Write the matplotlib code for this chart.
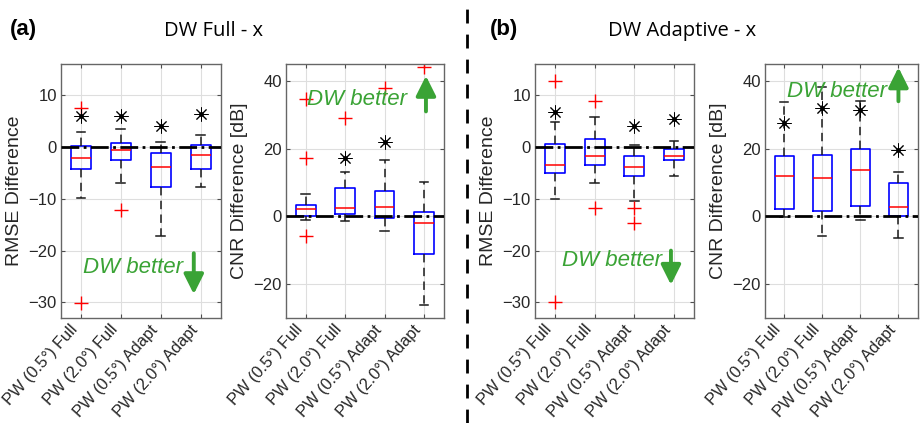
import numpy as np
import matplotlib
matplotlib.use("Agg")
import matplotlib.pyplot as plt
from matplotlib.lines import Line2D

plt.rcParams['font.family']     = ['Liberation Sans', 'DejaVu Sans']
plt.rcParams['axes.linewidth']  = 1.0
plt.rcParams['xtick.labelsize'] = 11.8
plt.rcParams['ytick.labelsize'] = 12
plt.rcParams['axes.labelsize']  = 14

labels = ['PW (0.5°) Full', 'PW (2.0°) Full', 'PW (0.5°) Adapt', 'PW (2.0°) Adapt']

# (a) DW Full - x : RMSE
rmse_full_med  = [-2.2, -0.5, -3.8, -1.6]
rmse_full_q1   = [-4.2, -2.6, -7.8, -4.2]
rmse_full_q3   = [0.1, 0.8, -1.2, 0.4]
rmse_full_lo   = [-9.9, -6.9, -17.2, -7.8]
rmse_full_hi   = [2.8, 3.5, 1.0, 2.3]
rmse_full_out  = [[7.5, -30.1], [-12.1], [], []]
rmse_full_star = [5.9, 5.9, 4.1, 6.3]

# (a) DW Full - x : CNR
cnr_full_med  = [2.2, 2.6, 2.7, -1.9]
cnr_full_q1   = [0.0, 0.6, -0.6, -11.1]
cnr_full_q3   = [3.3, 8.4, 7.4, 1.3]
cnr_full_lo   = [-1.0, -1.4, -4.4, -26.2]
cnr_full_hi   = [6.7, 13.0, 16.8, 10.2]
cnr_full_out  = [[34.6, 17.3, -5.9], [29.1], [38.0], [44.2]]
cnr_full_star = [np.nan, 17.3, 22.0, np.nan]

# (b) DW Adaptive - x : RMSE
rmse_adapt_med  = [-3.5, -1.7, -3.8, -1.8]
rmse_adapt_q1   = [-5.0, -3.4, -5.6, -2.6]
rmse_adapt_q3   = [0.6, 1.5, -1.8, -0.4]
rmse_adapt_lo   = [-10.1, -6.9, -10.4, -5.6]
rmse_adapt_hi   = [4.9, 5.8, 0.3, 1.2]
rmse_adapt_out  = [[12.7, -30.0], [8.9, -11.7], [-11.7, -14.7], []]
rmse_adapt_star = [6.7, np.nan, 4.1, 5.4]

# (b) DW Adaptive - x : CNR
cnr_adapt_med  = [11.8, 11.4, 13.6, 2.8]
cnr_adapt_q1   = [2.2, 1.6, 3.0, 0.1]
cnr_adapt_q3   = [17.8, 18.1, 19.8, 9.8]
cnr_adapt_lo   = [-0.2, -5.9, -1.0, -6.5]
cnr_adapt_hi   = [33.7, 38.3, 34.0, 13.0]
cnr_adapt_out  = [[], [], [], []]
cnr_adapt_star = [27.7, 31.9, 31.4, 19.5]

green = '#3aa335'

fig = plt.figure(figsize=(9.23, 4.23), dpi=100)

W, H = 923., 423.
def add_ax(left, right, top=64, bottom=318):
    return fig.add_axes([left/W, 1-bottom/H, (right-left)/W, (bottom-top)/H])

ax1 = add_ax(61, 220.5)
ax2 = add_ax(286, 443.7)
ax3 = add_ax(535, 694)
ax4 = add_ax(765, 917.5)

def draw_panel(ax, med, q1, q3, lo, hi, out, star, ylim, yticks, ylabel,
               txt_xy, arr_tail, arr_tip):
    pos = np.arange(1, len(med)+1)
    stats = []
    for i in range(len(med)):
        stats.append(dict(med=med[i], q1=q1[i], q3=q3[i],
                          whislo=lo[i], whishi=hi[i], fliers=out[i]))
    ax.bxp(stats, positions=pos, widths=0.5, capwidths=0.22,
           boxprops=dict(color='blue', lw=1.2),
           medianprops=dict(color='red', lw=1.1),
           whiskerprops=dict(color='0.1', ls=(0, (5.5, 3.5)), lw=1.1),
           capprops=dict(color='0.1', lw=1.1),
           flierprops=dict(marker='+', markeredgecolor='red', markersize=10,
                           markeredgewidth=1.0, linestyle='none'))
    ax.plot(pos, star, ls='none', marker=(8, 2, 0), ms=10, mew=0.7, color='k')
    ax.plot(pos, star, ls='none', marker='o', ms=2.5, color='k')
    ax.axhline(0, color='k', ls='-.', lw=2, zorder=4)

    ax.set_xlim(0.5, len(med)+0.5)
    ax.set_ylim(ylim)
    ax.set_yticks(yticks)
    ax.set_xticks(pos)
    ax.set_xticklabels(labels, rotation=48, ha='right', va='top')
    ax.set_ylabel(ylabel, color='0.15')
    ax.grid(True, color='0.87', lw=0.8)
    ax.set_axisbelow(True)
    ax.tick_params(direction='in', top=True, right=True, length=3,
                   colors='0.3', labelcolor='0.15', pad=3)
    for s in ax.spines.values():
        s.set_color('0.4')

    ax.text(txt_xy[0], txt_xy[1], 'DW better', color=green, style='italic',
            fontsize=16, ha='left', va='center')
    ax.annotate('', xy=arr_tip, xytext=arr_tail,
                arrowprops=dict(arrowstyle='-|>', color=green, lw=2.8,
                                mutation_scale=30, shrinkA=0, shrinkB=0))

draw_panel(ax1, rmse_full_med, rmse_full_q1, rmse_full_q3, rmse_full_lo,
           rmse_full_hi, rmse_full_out, rmse_full_star, (-33, 16),
           [-30, -20, -10, 0, 10], 'RMSE Difference',
           (1.05, -23.2), (3.83, -20.5), (3.83, -28.4))
draw_panel(ax2, cnr_full_med, cnr_full_q1, cnr_full_q3, cnr_full_lo,
           cnr_full_hi, cnr_full_out, cnr_full_star, (-30, 45),
           [-20, 0, 20, 40], 'CNR Difference [dB]',
           (1.03, 34.6), (4.05, 31.0), (4.05, 41.5))
draw_panel(ax3, rmse_adapt_med, rmse_adapt_q1, rmse_adapt_q3, rmse_adapt_lo,
           rmse_adapt_hi, rmse_adapt_out, rmse_adapt_star, (-33, 16),
           [-30, -20, -10, 0, 10], 'RMSE Difference',
           (1.18, -22.0), (3.92, -20.0), (3.92, -26.6))
draw_panel(ax4, cnr_adapt_med, cnr_adapt_q1, cnr_adapt_q3, cnr_adapt_lo,
           cnr_adapt_hi, cnr_adapt_out, cnr_adapt_star, (-30, 45),
           [-20, 0, 20, 40], 'CNR Difference [dB]',
           (1.07, 37.0), (4.0, 34.0), (4.0, 44.0))

# panel headings
fig.text(10/W, 1-29/H, '(a)', fontsize=16, fontweight='bold', ha='left', va='center')
fig.text(214/W, 1-31/H, 'DW Full - x', fontsize=14.5, family='Open Sans',
         ha='center', va='center')
fig.text(490/W, 1-29/H, '(b)', fontsize=16, fontweight='bold', ha='left', va='center')
fig.text(682/W, 1-31/H, 'DW Adaptive - x', fontsize=14.5, family='Open Sans',
         ha='center', va='center')

fig.add_artist(Line2D([467/W, 467/W], [0, 1], transform=fig.transFigure,
                      color='k', lw=2, ls=(0, (5, 4))))

fig.savefig('out.png', dpi=100)
